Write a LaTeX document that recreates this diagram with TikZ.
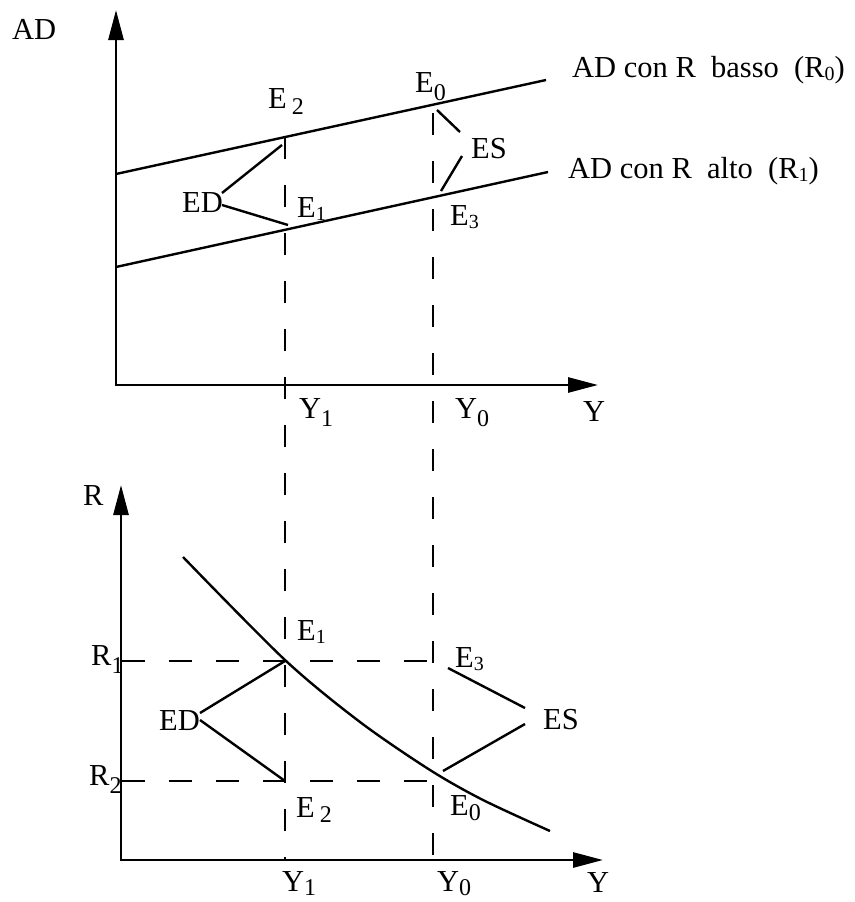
\documentclass[tikz,border=0pt]{standalone}
\usepackage{fontspec}
\setmainfont{Liberation Serif}
\usetikzlibrary{arrows.meta}
\newcommand{\subA}[1]{\raisebox{-3pt}{\fontsize{20}{20}\selectfont #1}}
\newcommand{\subB}[2][8pt]{\raisebox{-#1}{\fontsize{24}{24}\selectfont #2}}
\begin{document}
\begin{tikzpicture}[x=1pt,y=-1pt,
  axis/.style={line width=2.8pt,-{Triangle[length=30pt,width=15pt]}},
  curve/.style={line width=2.4pt},
  guide/.style={line width=2.4pt,dash pattern=on 22pt off 26pt},
  lbl/.style={inner sep=0pt,anchor=base west,font=\fontsize{30.5}{32}\selectfont}]
\useasboundingbox (0,0) rectangle (854,902);
% ---------- top panel ----------
\coordinate (O1) at (116,386);
\coordinate (T1) at (116,10);
\coordinate (X1) at (598,385);
\draw[axis] (O1) -- (T1);
\draw[axis] (116,385) -- (X1);
\coordinate (H0a) at (116,174); \coordinate (H0b) at (546,80);
\coordinate (H1a) at (116,267); \coordinate (H1b) at (548,172);
\draw[curve] (H0a) -- (H0b);
\draw[curve] (H1a) -- (H1b);
% dashed verticals
\coordinate (V1t) at (285,137); \coordinate (V1b) at (285,860);
\coordinate (V0t) at (433,113); \coordinate (V0b) at (433,860);
\draw[guide] (V1t) -- (V1b);
\draw[guide] (V0t) -- (V0b);
% labels top
\node[lbl] (ADlab) at (12,39) {AD};
\node[lbl] (basso) at (572,77) {AD con R\ \ basso\ \ (R\subA{0})};
\node[lbl] (alto) at (568,178) {AD con R\ \ alto\ \ (R\subA{1})};
\node[lbl] (tE2) at (268,108) {E\,\subB[6pt]{2}};
\node[lbl] (tE1) at (297,217) {E\subA{1}};
\node[lbl] (tED) at (182,212) {ED};
\node[lbl] (tE0) at (415,92) {E\subB{0}};
\node[lbl] (tES) at (471,158) {ES};
\node[lbl] (tE3) at (450,225) {E\subA{3}};
\node[lbl] (tY1) at (299,418) {Y\subB{1}};
\node[lbl] (tY0) at (455,418) {Y\subB{0}};
\node[lbl] (tY) at (583,421) {Y};
% ED / ES connectors top
\coordinate (tEDa) at (222,193); \coordinate (tEDb) at (282,145);
\coordinate (tEDc) at (222,205); \coordinate (tEDd) at (288,225);
\draw[curve] (tEDa) -- (tEDb);
\draw[curve] (tEDc) -- (tEDd);
\coordinate (tESa) at (437,110); \coordinate (tESb) at (460,132);
\coordinate (tESc) at (462,156); \coordinate (tESd) at (441,191);
\draw[curve] (tESa) -- (tESb);
\draw[curve] (tESc) -- (tESd);
% ---------- bottom panel ----------
\coordinate (O2) at (121,861);
\coordinate (T2) at (121,485);
\coordinate (X2) at (603,860);
\draw[axis] (O2) -- (T2);
\draw[axis] (121,860) -- (X2);
\coordinate (R1a) at (122,661); \coordinate (R1b) at (433,661);
\coordinate (R2a) at (122,781); \coordinate (R2b) at (433,781);
\draw[guide,dash pattern=on 23pt off 24pt] (R1a) -- (R1b);
\draw[guide,dash pattern=on 23pt off 24pt] (R2a) -- (R2b);
\draw[curve] plot[smooth] coordinates {(183,557) (285,660) (360,722) (430,770) (483,800) (550,831)};
% labels bottom
\node[lbl] (bR) at (83,505) {R};
\node[lbl] (bR1) at (91,665) {R\subB{1}};
\node[lbl] (bR2) at (89,785) {R\subB{2}};
\node[lbl] (bED) at (159,730) {ED};
\node[lbl] (bE1) at (297,640) {E\subA{1}};
\node[lbl] (bE3) at (455,667) {E\subA{3}};
\node[lbl] (bES) at (543,729) {ES};
\node[lbl] (bE2) at (296,817) {E\,\subB[5pt]{2}};
\node[lbl] (bE0) at (450,815) {E\subB[5pt]{0}};
\node[lbl] (bY1) at (282,891) {Y\subB[4pt]{1}};
\node[lbl] (bY0) at (437,891) {Y\subB[4pt]{0}};
\node[lbl] (bY) at (587,892) {Y};
% ED / ES connectors bottom
\coordinate (bEDa) at (200,713); \coordinate (bEDb) at (285,661);
\coordinate (bEDc) at (200,720); \coordinate (bEDd) at (285,781);
\draw[curve] (bEDa) -- (bEDb);
\draw[curve] (bEDc) -- (bEDd);
\coordinate (bESa) at (448,668); \coordinate (bESb) at (525,708);
\coordinate (bESc) at (525,724); \coordinate (bESd) at (443,771);
\draw[curve] (bESa) -- (bESb);
\draw[curve] (bESc) -- (bESd);
\end{tikzpicture}
\end{document}
